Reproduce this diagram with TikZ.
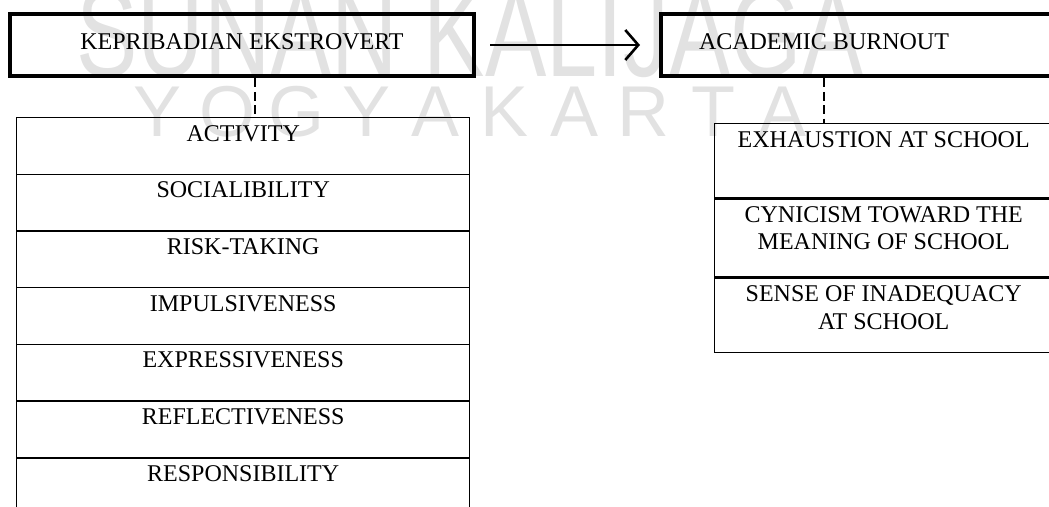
\documentclass[tikz,border=0pt]{standalone}
\usepackage{fontspec}
\setmainfont{Liberation Serif}
\newfontfamily\wmfont{Liberation Sans}
\usetikzlibrary{positioning,arrows.meta}

\tikzset{
  headbox/.style={draw, line width=2.4pt, inner sep=0pt, minimum height=31pt, text depth=3.5pt},
  headtext/.style={inner sep=0pt, text depth=3.5pt},
  rowbox/.style={draw, line width=0.7pt, inner sep=0pt, anchor=north west},
  rowtext/.style={inner sep=0pt, align=center},
  linkdash/.style={line width=0.9pt, dash pattern=on 4.5pt off 2.2pt},
  flow/.style={line width=1.3pt, -{Straight Barb[length=6.5pt,width=15pt]}, shorten <=6.8pt, shorten >=9.3pt},
  wmark/.style={text=wmgray, inner sep=0pt, anchor=base, font=\wmfont}
}

\begin{document}
\begin{tikzpicture}[x=0.5pt, y=-0.5pt, font=\fontsize{12}{13.75}\selectfont]
\definecolor{wmgray}{RGB}{226,226,226}
\clip (0,0) rectangle (1049,507);

% Watermark
\node[wmark] (wmtop) at (470,77) {\scalebox{0.73}[1]{\fontsize{63}{63}\selectfont SUNAN KALIJAGA}};
\foreach \ch [count=\k from 0] in {Y,O,G,Y,A,K,A,R,T,A}
  \node[wmark] (wm\k) at ({158+\k*69.4},137) {\fontsize{36}{36}\selectfont \ch};

% Main variables
\node[headbox, minimum width=232pt] (ekstro) at (242,45) {KEPRIBADIAN EKSTROVERT};
\node[headbox, minimum width=207pt] (burnout) at (868,45) {};
\node[headtext] (burnoutlbl) at (824,45) {ACADEMIC BURNOUT};
\draw[flow] (ekstro) -- (burnout);

% Aspects of extrovert personality
\foreach \t [count=\i] in {ACTIVITY,SOCIALIBILITY,RISK-TAKING,IMPULSIVENESS,EXPRESSIVENESS,REFLECTIVENESS,RESPONSIBILITY} {
  \node[rowbox, minimum width=226.5pt, minimum height=28.35pt] (e\i) at ({16},{117+(\i-1)*56.7}) {};
  \node[rowtext, below=3.9pt of e\i.north] (et\i) {\t};
}

% Aspects of academic burnout
\node[rowbox, minimum width=169pt, minimum height=37pt] (x1) at (714,123) {};
\node[rowbox, minimum width=169pt, minimum height=39pt] (x2) at (x1.south west) {};
\node[rowbox, minimum width=169pt, minimum height=37pt] (x3) at (x2.south west) {};
\node[rowtext, below=4.2pt of x1.north] (xt1) {EXHAUSTION AT SCHOOL};
\node[rowtext, below=3.9pt of x2.north] (xt2) {CYNICISM TOWARD THE\\MEANING OF SCHOOL};
\node[rowtext, below=3.9pt of x3.north] (xt3) {SENSE OF INADEQUACY\\AT SCHOOL};

% Links to aspects
\draw[linkdash] ([xshift=6.5pt]ekstro.south) coordinate (d1) -- (d1 |- e1.north);
\draw[linkdash] (burnoutlbl |- burnout.south) -- (burnoutlbl |- x1.north);
\end{tikzpicture}
\end{document}
